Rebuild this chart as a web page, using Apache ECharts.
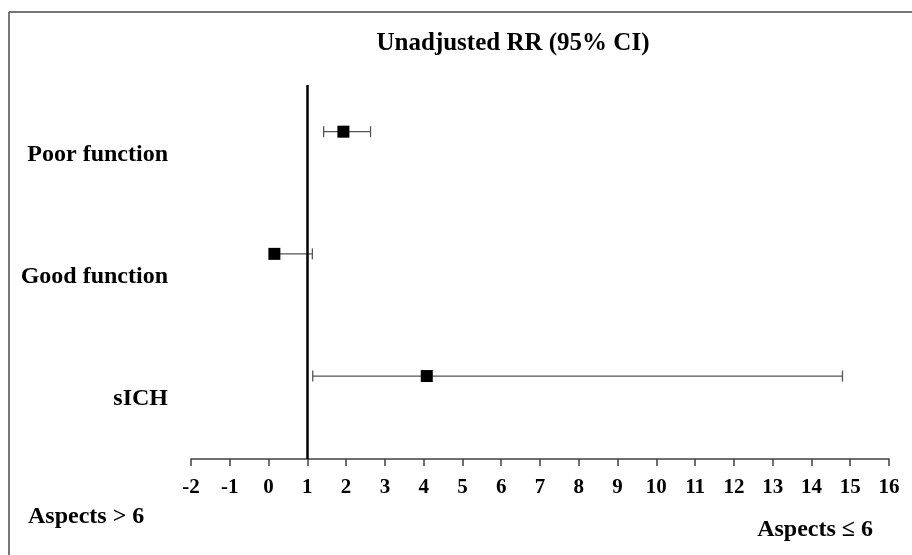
<!DOCTYPE html>
<html>
<head>
<meta charset="UTF-8">
<script src="https://cdn.jsdelivr.net/npm/echarts@6/dist/echarts.min.js"></script>
<title>Unadjusted RR</title>
<style>
html, body {
	margin: 0;
	padding: 0;
	background: #fff;
}

#main {
	width: 912px;
	height: 555px;
}
</style>
</head>
<body>
	<div id="main"></div>
	<script>
		// rows from top to bottom
		var categories = [ 'Poor function', 'Good function', 'sICH' ];
		var rowPos = [ 3, 2, 1 ];
		var rr = [ 1.93, 0.15, 4.08 ];
		var ciLow = [ 1.42, 0.05, 1.14 ];
		var ciHigh = [ 2.63, 1.13, 14.8 ];
		var xMin = -2, xMax = 16, refValue = 1;

		var FONT = "'Liberation Serif', 'Times New Roman', serif";

		var pointData = [], barData = [];
		for (var i = 0; i < categories.length; i++) {
			pointData.push([ rr[i], rowPos[i] ]);
			barData.push([ rowPos[i], ciLow[i], ciHigh[i] ]);
		}

		var option = {
			backgroundColor : '#fff',
			animation : false,
			grid : {
				left : 191,
				right : 23,
				top : 85,
				bottom : 96
			},
			xAxis : {
				type : 'value',
				min : xMin,
				max : xMax,
				interval : 1,
				axisLine : {
					show : true,
					lineStyle : {
						color : '#404040',
						width : 1.5
					}
				},
				axisTick : {
					show : true,
					length : 7,
					lineStyle : {
						color : '#404040',
						width : 1.5
					}
				},
				axisLabel : {
					color : '#000',
					fontFamily : FONT,
					fontWeight : 'bold',
					fontSize : 21,
					margin : 18
				},
				splitLine : {
					show : false
				}
			},
			yAxis : {
				type : 'value',
				min : 0.321,
				max : 3.382,
				axisLine : {
					show : false
				},
				axisTick : {
					show : false
				},
				splitLine : {
					show : false
				},
				axisLabel : {
					customValues : rowPos,
					color : '#000',
					fontFamily : FONT,
					fontWeight : 'bold',
					fontSize : 24,
					margin : 23,
					verticalAlign : 'top',
					lineHeight : 46,
					formatter : function(v) {
						var idx = rowPos.indexOf(v);
						return idx >= 0 ? categories[idx] : '';
					}
				}
			},
			graphic : [ {
				type : 'line',
				shape : { x1 : 9, y1 : 12, x2 : 912, y2 : 12 },
				style : { stroke : '#4a4a4a', lineWidth : 1.5 }
			}, {
				type : 'line',
				shape : { x1 : 9, y1 : 12, x2 : 9, y2 : 555 },
				style : { stroke : '#4a4a4a', lineWidth : 1.5 }
			}, {
				type : 'text',
				x : 513,
				y : 44,
				style : {
					text : 'Unadjusted RR (95% CI)',
					font : 'bold 25px ' + FONT,
					fill : '#000',
					align : 'center',
					verticalAlign : 'middle'
				}
			}, {
				type : 'text',
				x : 28,
				y : 517,
				style : {
					text : 'Aspects > 6',
					font : 'bold 24px ' + FONT,
					fill : '#000',
					align : 'left',
					verticalAlign : 'middle'
				}
			}, {
				type : 'text',
				x : 873,
				y : 530,
				style : {
					text : 'Aspects \u2264 6',
					font : 'bold 24px ' + FONT,
					fill : '#000',
					align : 'right',
					verticalAlign : 'middle'
				}
			} ],
			series : [ {
				type : 'custom',
				name : 'CI',
				data : barData,
				encode : { x : [ 1, 2 ], y : 0 },
				renderItem : function(params, api) {
					var y = api.value(0);
					var lo = api.coord([ api.value(1), y ]);
					var hi = api.coord([ api.value(2), y ]);
					var h = 5.5;
					var st = { stroke : '#555', lineWidth : 1.3 };
					return {
						type : 'group',
						children : [ {
							type : 'line',
							shape : { x1 : lo[0], y1 : lo[1], x2 : hi[0], y2 : hi[1] },
							style : st
						}, {
							type : 'line',
							shape : { x1 : lo[0], y1 : lo[1] - h, x2 : lo[0], y2 : lo[1] + h },
							style : st
						}, {
							type : 'line',
							shape : { x1 : hi[0], y1 : hi[1] - h, x2 : hi[0], y2 : hi[1] + h },
							style : st
						} ]
					};
				},
				z : 2
			}, {
				type : 'scatter',
				name : 'RR',
				data : pointData,
				symbol : 'rect',
				symbolSize : 12,
				itemStyle : {
					color : '#000',
					opacity : 1
				},
				z : 3,
				markLine : {
					silent : true,
					symbol : 'none',
					label : { show : false },
					lineStyle : {
						color : '#000',
						width : 2.5,
						type : 'solid',
						opacity : 1
					},
					data : [ { xAxis : refValue } ]
				}
			} ]
		};

		var mychart = echarts.init(document.getElementById('main'));
		mychart.setOption(option);
	</script>
</body>
</html>
